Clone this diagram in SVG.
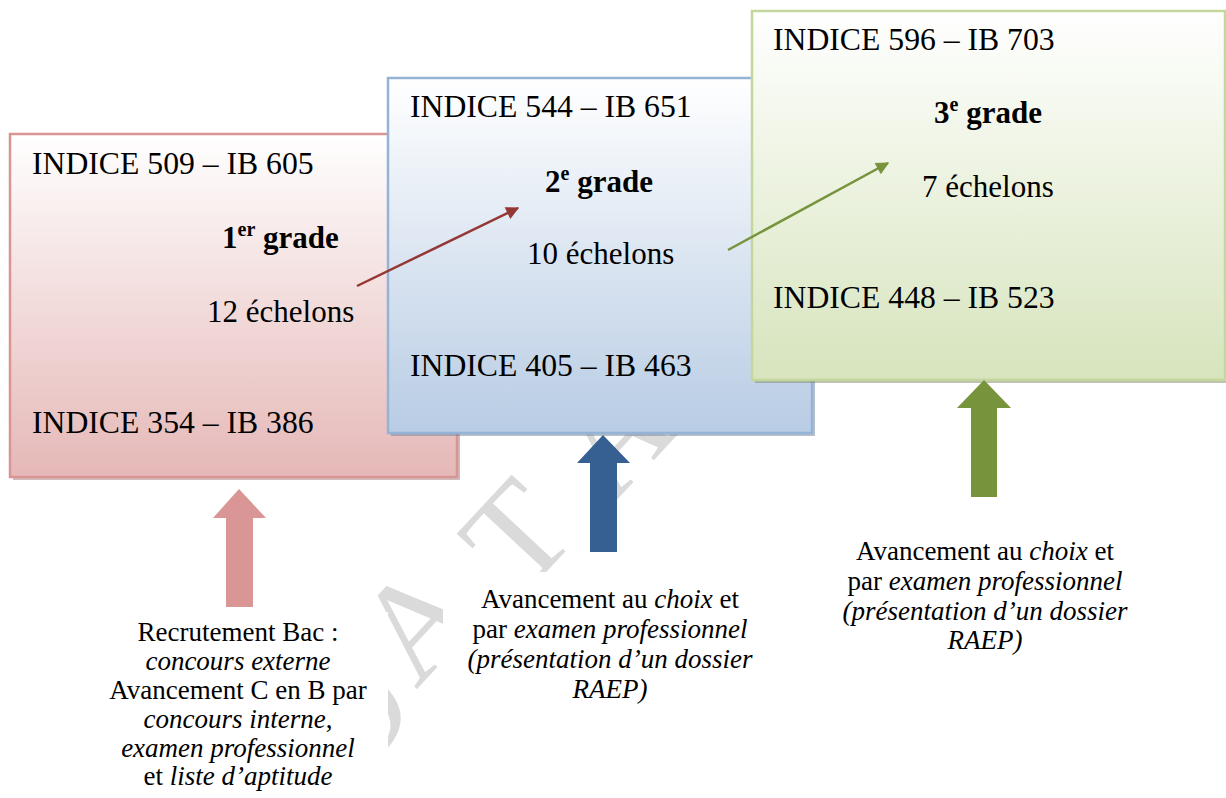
<svg xmlns="http://www.w3.org/2000/svg" width="1226" height="798" viewBox="0 0 1226 798">
<defs>
<linearGradient id="gPink" x1="0" y1="0" x2="0" y2="1"><stop offset="0" stop-color="#ffffff"/><stop offset="1" stop-color="#e5b8b7"/></linearGradient>
<linearGradient id="gBlue" x1="0" y1="0" x2="0" y2="1"><stop offset="0" stop-color="#ffffff"/><stop offset="1" stop-color="#b8cce4"/></linearGradient>
<linearGradient id="gGreen" x1="0" y1="0" x2="0" y2="1"><stop offset="0" stop-color="#ffffff"/><stop offset="1" stop-color="#d7e4bd"/></linearGradient>
<marker id="mRed" viewBox="0 0 10 10" refX="9" refY="5" markerWidth="16" markerHeight="13" markerUnits="userSpaceOnUse" orient="auto"><path d="M0,0 L10,5 L0,10 z" fill="#953735"/></marker>
<marker id="mGreen" viewBox="0 0 10 10" refX="9" refY="5" markerWidth="16" markerHeight="13" markerUnits="userSpaceOnUse" orient="auto"><path d="M0,0 L10,5 L0,10 z" fill="#77933c"/></marker>
</defs>
<style>
text{font-family:"Liberation Serif","Times New Roman",serif;fill:#000}
.m{font-size:31.7px}
.e{font-size:31px}
.b{font-size:31px;font-weight:bold}
.sup{font-size:20px}
.s{font-size:27px}
.i{font-style:italic}
.wm{font-size:140px;fill:#dadada}
.shadow{opacity:0.5}
.bg{fill:#ffffff}
</style>
<rect width="1226" height="798" fill="#ffffff"/>
<g id="watermark">
<text class="wm" transform="translate(352,786) rotate(-47)">D</text>
<text class="wm" transform="translate(416,690) rotate(-47)">A</text>
<text class="wm" transform="translate(522,598) rotate(-47)">T</text>
<text class="wm" transform="translate(612,505) rotate(-47)">A</text>
</g>
<g id="grade1">
<rect x="13" y="137" width="447" height="343" fill="#9e7776" class="shadow"/>
<rect x="10" y="134" width="447" height="343" fill="url(#gPink)" stroke="#d99594" stroke-width="2.5"/>
<text class="m" x="32" y="174">INDICE 509 – IB 605</text>
<text class="b" x="222" y="248">1<tspan class="sup" dy="-12">er</tspan><tspan dy="12"> grade</tspan></text>
<text class="e" x="207" y="322">12 échelons</text>
<text class="m" x="32" y="433">INDICE 354 – IB 386</text>
</g>
<g id="grade2">
<rect x="391" y="81" width="424" height="355" fill="#6e7f96" class="shadow"/>
<rect x="388" y="78" width="424" height="355" fill="url(#gBlue)" stroke="#95b3d7" stroke-width="2.5"/>
<text class="m" x="410" y="117">INDICE 544 – IB 651</text>
<text class="b" x="545" y="192">2<tspan class="sup" dy="-12">e</tspan><tspan dy="12"> grade</tspan></text>
<text class="e" x="527" y="264">10 échelons</text>
<text class="m" x="410" y="376">INDICE 405 – IB 463</text>
</g>
<g id="grade3">
<rect x="755" y="14" width="473" height="369" fill="#7d8566" class="shadow"/>
<rect x="752" y="11" width="473" height="369" fill="url(#gGreen)" stroke="#c3d69b" stroke-width="2.5"/>
<text class="m" x="773" y="50">INDICE 596 – IB 703</text>
<text class="b" x="934" y="123">3<tspan class="sup" dy="-12">e</tspan><tspan dy="12"> grade</tspan></text>
<text class="e" x="922" y="197">7 échelons</text>
<text class="m" x="773" y="308">INDICE 448 – IB 523</text>
</g>
<g id="label1">
<rect class="bg" x="90" y="612" width="298" height="186"/>
<text class="s" x="238" y="641" text-anchor="middle">Recrutement Bac :</text>
<text class="s i" x="238" y="670" text-anchor="middle">concours externe</text>
<text class="s" x="238" y="699" text-anchor="middle">Avancement C en B par</text>
<text class="s" x="238" y="728" text-anchor="middle"><tspan class="i">concours interne</tspan>,</text>
<text class="s i" x="238" y="757" text-anchor="middle">examen professionnel</text>
<text class="s" x="238" y="785" text-anchor="middle">et <tspan class="i">liste d’aptitude</tspan></text>
</g>
<g id="label2">
<rect class="bg" x="443" y="572" width="334" height="140"/>
<text class="s" x="610" y="608" text-anchor="middle">Avancement au <tspan class="i">choix</tspan> et</text>
<text class="s" x="610" y="638" text-anchor="middle">par <tspan class="i">examen professionnel</tspan></text>
<text class="s i" x="610" y="668" text-anchor="middle">(présentation d’un dossier</text>
<text class="s i" x="610" y="698" text-anchor="middle">RAEP)</text>
</g>
<g id="label3">
<text class="s" x="985" y="560" text-anchor="middle">Avancement au <tspan class="i">choix</tspan> et</text>
<text class="s" x="985" y="590" text-anchor="middle">par <tspan class="i">examen professionnel</tspan></text>
<text class="s i" x="985" y="620" text-anchor="middle">(présentation d’un dossier</text>
<text class="s i" x="985" y="649" text-anchor="middle">RAEP)</text>
</g>
<g id="connectors">
<line x1="357" y1="286" x2="518" y2="208" stroke="#953735" stroke-width="2.5" marker-end="url(#mRed)"/>
<line x1="728" y1="250" x2="888" y2="163" stroke="#77933c" stroke-width="2.5" marker-end="url(#mGreen)"/>
<path d="M239,489 L266,518 L253,518 L253,607 L226,607 L226,518 L213,518 z" fill="#d99694"/>
<path d="M603,435 L630,463 L617,463 L617,552 L590,552 L590,463 L577,463 z" fill="#376092"/>
<path d="M984,380 L1011,408 L997,408 L997,497 L971,497 L971,408 L957,408 z" fill="#77933c"/>
</g>
</svg>
